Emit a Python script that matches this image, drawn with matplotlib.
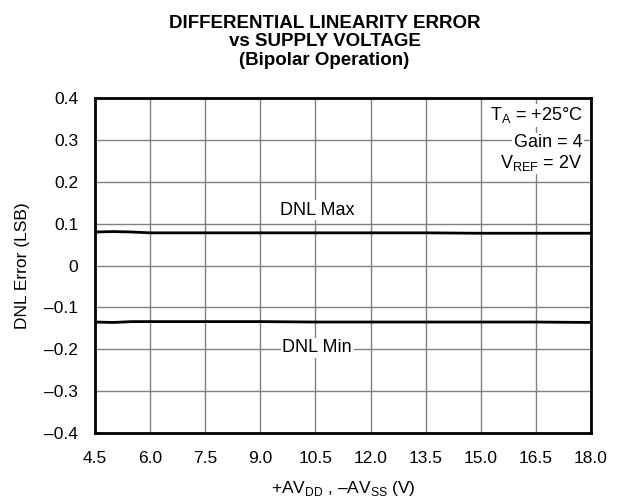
import matplotlib
matplotlib.use("Agg")
import matplotlib.pyplot as plt

plt.rcParams["font.family"] = ["Liberation Sans", "DejaVu Sans"]
plt.rcParams["mathtext.fontset"] = "custom"
plt.rcParams["mathtext.rm"] = "Liberation Sans"

supply_v = [4.5, 5.0, 5.5, 6.0, 7.5, 9.0, 10.5, 12.0, 13.5, 15.0, 16.5, 18.0]
dnl_max = [0.080, 0.081, 0.080, 0.078, 0.078, 0.078, 0.078, 0.078, 0.078, 0.077, 0.077, 0.077]
dnl_min = [-0.135, -0.136, -0.134, -0.134, -0.134, -0.134, -0.135, -0.135, -0.135, -0.135, -0.135, -0.136]

x_ticks = [4.5, 6.0, 7.5, 9.0, 10.5, 12.0, 13.5, 15.0, 16.5, 18.0]
y_ticks = [-0.4, -0.3, -0.2, -0.1, 0.0, 0.1, 0.2, 0.3, 0.4]
y_labels = ["\u20130.4", "\u20130.3", "\u20130.2", "\u20130.1", "0", "0.1", "0.2", "0.3", "0.4"]

FS = 12.5

fig = plt.figure(figsize=(6.18, 5.0), dpi=100)
ax = fig.add_axes([0.1537, 0.134, 0.8026, 0.670])

ax.plot(supply_v, dnl_max, color="black", linewidth=2.0, zorder=3)
ax.plot(supply_v, dnl_min, color="black", linewidth=2.0, zorder=3)

ax.set_xlim(4.5, 18.0)
ax.set_ylim(-0.4, 0.4)
ax.set_xticks(x_ticks, [f"{v:.1f}" for v in x_ticks])
ax.set_yticks(y_ticks, y_labels)
ax.tick_params(length=0, labelsize=FS)
ax.tick_params(axis="x", pad=13)
ax.tick_params(axis="y", pad=12)
ax.grid(True, color="#808080", linewidth=1.0)
ax.set_axisbelow(True)
for s in ax.spines.values():
    s.set_linewidth(2.0)

ax.set_xlabel("+AV$_{\\mathregular{DD}}$ , \u2013AV$_{\\mathregular{SS}}$ (V)", fontsize=FS, labelpad=9)
ax.set_ylabel("DNL Error (LSB)", fontsize=FS, labelpad=10)

# curve labels and conditions sit on white boxes that break the grid
bbox = dict(facecolor="white", edgecolor="none", pad=1.0)
ax.text(10.55, 0.121, "DNL Max", ha="center", va="baseline", fontsize=FS + 0.5, bbox=bbox, zorder=4)
ax.text(10.55, -0.207, "DNL Min", ha="center", va="baseline", fontsize=FS + 0.5, bbox=bbox, zorder=4)

ax.text(17.76, 0.347, "T$_{\\mathregular{A}}$ = +25\u00b0C", ha="right", va="baseline", fontsize=FS + 0.5, bbox=bbox, zorder=4)
ax.text(17.76, 0.283, "Gain = 4", ha="right", va="baseline", fontsize=FS + 0.5, bbox=bbox, zorder=4)
ax.text(17.76, 0.233, "V$_{\\mathregular{REF}}$ = 2V", ha="right", va="baseline", fontsize=FS + 0.5, bbox=bbox, zorder=4)

fig.text(0.525, 0.916, "DIFFERENTIAL LINEARITY ERROR\nvs SUPPLY VOLTAGE\n(Bipolar Operation)",
         ha="center", va="center", fontsize=13.5, fontweight="bold", linespacing=1.12)

fig.savefig("out.png", dpi=100)
